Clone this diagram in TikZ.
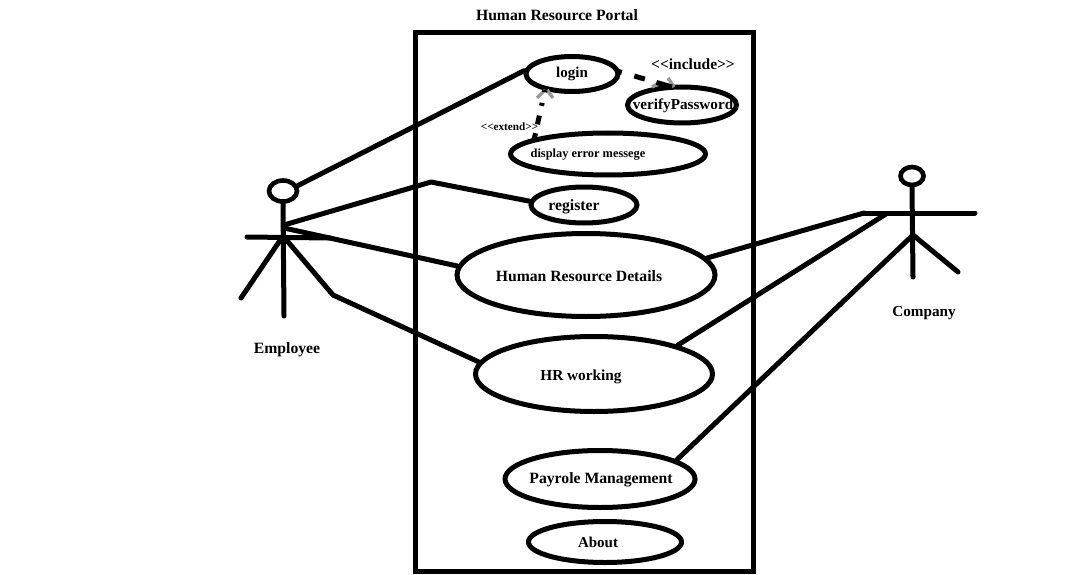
\documentclass[tikz,border=0pt]{standalone}
\usepackage{fontspec}
\setmainfont{Liberation Serif}
\usetikzlibrary{shapes.geometric}
\begin{document}
\begin{tikzpicture}[x=1pt,y=-1pt,
  ln/.style={line width=5pt,line cap=round,line join=round,draw=black},
  usecase/.style={ellipse,draw=black,line width=5pt,inner sep=0pt,fill=none},
  head/.style={ellipse,draw=black,line width=4.6pt,inner sep=0pt},
  lbl/.style={inner sep=0pt,text=black},
  big/.style={lbl,font=\bfseries\fontsize{15.7}{17}\selectfont},
  dep/.style={line width=5pt,draw=black},
  tip/.style={line width=3.4pt,draw=black!40}]
\useasboundingbox (0,0) rectangle (1065,575);
\fill[white] (0,0) rectangle (1065,575);
% system boundary
\node[draw=black,line width=5pt,inner sep=0pt,minimum width=338pt,minimum height=538pt] (sys) at (584,302) {};
\node[big] (title) at (557,15) {Human Resource Portal};
% use cases
\node[usecase,minimum width=92pt,minimum height=35pt] (login) at (572,74) {};
\node[usecase,minimum width=109pt,minimum height=36pt] (verify) at (682,105) {};
\node[usecase,minimum width=195pt,minimum height=42pt] (error) at (608,154) {};
\node[usecase,minimum width=106pt,minimum height=36pt] (register) at (584,205) {};
\node[usecase,minimum width=258pt,minimum height=83pt] (details) at (586,275) {};
\node[usecase,minimum width=237pt,minimum height=75pt] (working) at (594,374) {};
\node[usecase,minimum width=190pt,minimum height=57pt] (payroll) at (600,479) {};
\node[usecase,minimum width=153pt,minimum height=41pt] (about) at (605,542) {};
\node[lbl,font=\bfseries\fontsize{15}{17}\selectfont] (tlogin) at (572,74) {login};
\node[lbl,font=\bfseries\fontsize{15.2}{17}\selectfont] (tverify) at (683,106) {verifyPassword};
\node[lbl,font=\bfseries\fontsize{12.4}{14}\selectfont] (terror) at (588,155) {display error messege};
\node[big] (tregister) at (574,207) {register};
\node[big] (tdetails) at (579,276) {Human Resource Details};
\node[lbl,font=\bfseries\fontsize{15.3}{17}\selectfont] (tworking) at (581,377) {HR working};
\node[big] (tpayroll) at (601,480) {Payrole Management};
\node[lbl,font=\bfseries\fontsize{15}{17}\selectfont] (tabout) at (598,542) {About};
\node[lbl,font=\bfseries\fontsize{15.5}{17}\selectfont] (tinc) at (693,64) {<{}<include>{}>};
\node[lbl,font=\bfseries\fontsize{11.2}{13}\selectfont] (text) at (509.5,127) {<{}<extend>{}>};
% employee
\node[head,minimum width=28pt,minimum height=21pt] (ehead) at (283,191) {};
\coordinate (eneck) at (284,225);
\coordinate (eneck2) at (284,228);
\coordinate (ehip) at (283,236);
\coordinate (efoot) at (284,316);
\coordinate (eL) at (247,237);
\coordinate (eR) at (330,238);
\coordinate (elegL) at (241,298);
\coordinate (elegR) at (333,295);
\coordinate (ebend) at (431,182);
\draw[ln] (ehead.south) -- (efoot);
\draw[ln] (eL) -- (eR);
\draw[ln] (ehip) -- (elegL);
\draw[ln] (ehip) -- (elegR);
\node[big] (emp) at (287,350) {Employee};
% company
\node[head,minimum width=23pt,minimum height=18pt] (chead) at (912,176) {};
\coordinate (chip) at (913,235);
\coordinate (cfoot) at (913,277);
\coordinate (cL) at (864,213);
\coordinate (cR) at (975,213);
\coordinate (clegR) at (958,272);
\coordinate (carm) at (886,214);
\draw[ln] (chead.south) -- (cfoot);
\draw[ln] (cL) -- (cR);
\draw[ln] (chip) -- (clegR);
\node[lbl,font=\bfseries\fontsize{15.2}{17}\selectfont] (comp) at (924,313) {Company};
% connectors
\draw[ln] (ehead.20) -- (login.176);
\draw[ln] (eneck) -- (ebend) -- (register.176);
\draw[ln] (eneck2) -- (details.176);
\draw[ln] (elegR) -- (working.174);
\draw[ln] (details.8) -- (cL);
\draw[ln] (working.19) -- (carm);
\draw[ln] (payroll.14) -- (chip);
% dependencies
\coordinate (a1) at (617,71);
\coordinate (a2) at (672,87);
\coordinate (b1) at (534,140);
\coordinate (b2) at (545,90);
\draw[tip] (652,87) -- (660,83);
\draw[tip] (668,78) -- (674,87);
\draw[tip] (537,98) -- (545,90);
\draw[tip] (547,90) -- (553,98);
\draw[dep,dash pattern=on 5pt off 13pt on 11pt off 12pt on 16pt off 0pt] (a1) -- (a2);
\draw[dep,dash pattern=on 7pt off 9pt on 9pt off 10pt on 3pt off 11pt on 5pt off 0pt] (b1) -- (b2);
\end{tikzpicture}
\end{document}
